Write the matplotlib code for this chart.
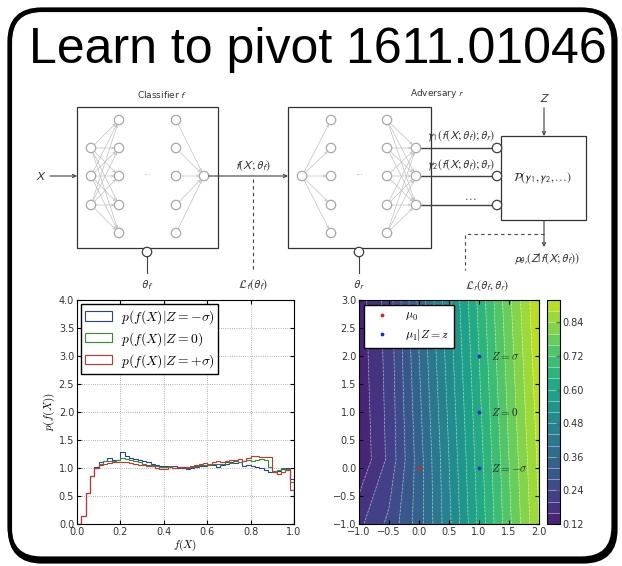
import numpy as np
import matplotlib
matplotlib.use("Agg")
import matplotlib.pyplot as plt
from matplotlib import font_manager
from matplotlib.patches import FancyBboxPatch, Circle, Rectangle

# --- histogram of f(X) for three values of the nuisance Z (50 bins on [0, 1]) ---
hist_edges = np.linspace(0.0, 1.0, 51)
p_minus = [0.00, 0.14, 0.55, 0.85, 1.02, 1.10, 1.12, 1.18, 1.14, 1.15,
           1.28, 1.22, 1.18, 1.16, 1.15, 1.12, 1.10, 1.08, 1.06, 1.03,
           1.04, 1.01, 1.03, 1.00, 1.01, 0.99, 1.00, 1.02, 1.03, 1.04,
           1.05, 1.06, 1.02, 1.05, 1.08, 1.10, 1.09, 1.11, 1.03, 1.06,
           1.04, 1.02, 1.00, 0.97, 0.93, 0.92, 0.95, 0.99, 1.00, 0.80]
p_zero = [0.00, 0.14, 0.55, 0.85, 1.00, 1.08, 1.12, 1.12, 1.13, 1.15,
          1.18, 1.16, 1.14, 1.12, 1.10, 1.08, 1.06, 1.05, 1.03, 1.02,
          1.02, 1.03, 1.00, 1.01, 1.00, 1.00, 1.01, 1.03, 1.05, 1.06,
          1.05, 1.07, 1.08, 1.07, 1.10, 1.09, 1.12, 1.10, 1.13, 1.14,
          1.13, 1.14, 1.16, 1.15, 1.02, 0.95, 0.97, 1.00, 0.98, 0.75]
p_plus = [0.00, 0.14, 0.55, 0.85, 1.00, 1.06, 1.08, 1.09, 1.10, 1.10,
          1.11, 1.10, 1.09, 1.08, 1.06, 1.05, 1.03, 1.04, 1.00, 0.98,
          0.99, 1.01, 1.00, 1.02, 1.00, 1.01, 1.03, 1.05, 1.07, 1.09,
          1.08, 1.10, 1.12, 1.11, 1.13, 1.15, 1.14, 1.16, 1.13, 1.18,
          1.21, 1.22, 1.20, 1.20, 1.19, 0.92, 0.90, 0.93, 0.97, 0.60]
hist_labels = [r"$p(f(X)|Z=-\sigma)$", r"$p(f(X)|Z=0)$", r"$p(f(X)|Z=+\sigma)$"]
hist_colors = ["#2b3fa0", "#2e8f2e", "#d0302c"]

grid_x = [-1.0, -0.5, 0.0, 0.5, 1.0, 1.5, 2.0]
grid_y = [-1.0, 0.15, 3.0]
surface = [[0.19, 0.25, 0.34, 0.47, 0.61, 0.75, 0.88],
           [0.125, 0.21, 0.34, 0.48, 0.62, 0.76, 0.89],
           [0.14, 0.22, 0.37, 0.51, 0.65, 0.79, 0.92]]
levels = np.linspace(0.12, 0.92, 21)
cbar_ticks = [0.12, 0.24, 0.36, 0.48, 0.60, 0.72, 0.84]
mu0 = (0.0, 0.0)
mu1_x = [1.0, 1.0, 1.0]
mu1_y = [2.0, 1.0, 0.0]
mu1_text = [r"$Z=\sigma$", r"$Z=0$", r"$Z=-\sigma$"]

W, H = 622, 566
plt.rcParams.update({
    "mathtext.fontset": "cm",
    "xtick.direction": "in", "ytick.direction": "in",
    "xtick.top": True, "ytick.right": True,
    "xtick.labelsize": 7, "ytick.labelsize": 7,
    "xtick.labelcolor": "#333333", "ytick.labelcolor": "#333333",
    "xtick.major.size": 3, "ytick.major.size": 3,
    "xtick.major.pad": 2, "ytick.major.pad": 2,
    "axes.linewidth": 0.8,
    "legend.fancybox": False, "legend.edgecolor": "black", "legend.framealpha": 1,
})

fig = plt.figure(figsize=(W / 100, H / 100), dpi=100, facecolor="white")

# --- 1) slide background: frame, title, network diagram ---
bg = fig.add_axes([0, 0, 1, 1])
bg.set_xlim(0, W)
bg.set_ylim(H, 0)
bg.axis("off")

# frame with a small drop shadow on the bottom/right
bg.add_patch(FancyBboxPatch((10, 10), 605.5, 551.5, boxstyle="round,pad=0,rounding_size=32",
                            fc="none", ec="black", lw=3))
bg.add_patch(FancyBboxPatch((9.5, 9.5), 604, 549, boxstyle="round,pad=0,rounding_size=32",
                            fc="none", ec="black", lw=3))

names = {f.name for f in font_manager.fontManager.ttflist}
if "Liberation Sans Narrow" in names:
    tfam, tsize = "Liberation Sans Narrow", 43
else:
    tfam, tsize = "Liberation Sans", 36
bg.text(318, 63, "Learn to pivot 1611.01046", ha="center", va="baseline",
        fontsize=tsize, family=tfam)

DARK, NODE, EDGE = "#404040", "#a8a8a8", "#c0c0c0"
R = 4.7


def label(x, y, s, ha="center", z=2, size=8.5):
    bg.text(x, y, s, ha=ha, va="center", fontsize=size, color="#333333",
            math_fontfamily="stixsans", zorder=z)


def arrow(x0, y0, x1, y1, color=DARK, lw=0.8, ms=6):
    bg.annotate("", xy=(x1, y1), xytext=(x0, y0),
                arrowprops=dict(arrowstyle="->", color=color, lw=lw,
                                shrinkA=0, shrinkB=0, mutation_scale=ms))


def node(x, y, ec=NODE, z=3):
    bg.add_patch(Circle((x, y), R, fc="white", ec=ec, lw=0.9, zorder=z))


def link(p, q):
    d = np.subtract(q, p)
    n = d / np.hypot(*d)
    arrow(p[0] + n[0] * R, p[1] + n[1] * R, q[0] - n[0] * R, q[1] - n[1] * R,
          color=EDGE, lw=0.5, ms=4)


rows5 = [120, 148, 176, 205, 233]
rows3 = [148, 176, 205]

# classifier f
bg.add_patch(Rectangle((77, 107), 141, 141, fc="none", ec="#333333", lw=0.9))
label(162, 94, r"Classifier $f$", size=6.5)
for ya in rows3:
    for yb in rows5:
        link((91, ya), (119, yb))
for yc in rows5:
    link((176, yc), (204, 176))
for y in rows3:
    node(91, y)
for y in rows5:
    node(119, y)
    node(176, y)
node(204, 176)
bg.text(147, 176, "···", ha="center", va="center", fontsize=6, color=NODE)
label(41, 176, r"$X$")
arrow(50, 176, 77, 176)
arrow(204 + R, 176, 288, 176)
label(253, 166, r"$f(X;\theta_f)$")
bg.plot([253, 253], [179, 270], color=DARK, lw=0.8, ls=(0, (3, 3)))
label(253, 285, r"$\mathcal{L}_f(\theta_f)$")
node(147, 252, ec=DARK)
bg.plot([147, 147], [252 + R, 273], color=DARK, lw=0.8)
label(147, 285, r"$\theta_f$")

# adversary r
bg.add_patch(Rectangle((288, 107), 143, 141, fc="none", ec="#333333", lw=0.9))
label(437, 94, r"Adversary $r$", size=6.5)
for yb in rows5:
    link((302, 176), (331, yb))
for yc in rows5:
    for yo in rows3:
        link((387, yc), (416, yo))
node(302, 176)
for y in rows5:
    node(331, y)
    node(387, y)
bg.text(359, 176, "···", ha="center", va="center", fontsize=6, color=NODE)
node(359, 252, ec=DARK)
bg.plot([359, 359], [252 + R, 273], color=DARK, lw=0.8)
label(359, 285, r"$\theta_r$")
for y in rows3:
    bg.plot([416 + R, 497 - R], [y, y], color=DARK, lw=1.0)
    node(416, y)
    node(497, y, ec=DARK, z=6)
label(427, 136, r"$\gamma_1(f(X;\theta_f);\theta_r)$", ha="left")
label(427, 165, r"$\gamma_2(f(X;\theta_f);\theta_r)$", ha="left")
label(470, 196, r"$\ldots$")

# posterior box
bg.add_patch(Rectangle((501, 136), 85, 84, fc="white", ec="#333333", lw=0.9, zorder=5))
label(543, 178, r"$\mathcal{P}(\gamma_1,\gamma_2,\ldots)$", z=6)
label(544, 99, r"$Z$")
arrow(544, 108, 544, 136)
arrow(544, 220, 544, 247)
label(547, 259, r"$p_{\theta_r}(Z|f(X;\theta_f))$")
bg.plot([544, 465, 465], [234, 234, 270], color=DARK, lw=0.8, ls=(0, (3, 3)))
label(487, 286, r"$\mathcal{L}_r(\theta_f,\theta_r)$")

# --- 2) histogram panel ---
ax1 = fig.add_axes([77 / W, (H - 524) / H, 217 / W, 224 / H])
for vals, col, lab in zip([p_minus, p_zero, p_plus], hist_colors, hist_labels):
    ax1.hist(hist_edges[:-1], bins=hist_edges, weights=vals, histtype="step",
             color=col, lw=0.8, label=lab)
ax1.set_xlim(0, 1)
ax1.set_ylim(0, 4)
ax1.set_xticks(np.arange(0, 1.01, 0.2))
ax1.set_yticks(np.arange(0, 4.01, 0.5))
ax1.grid(True, ls=":", color="#999999", lw=0.6)
ax1.set_xlabel(r"$f(X)$", fontsize=8, labelpad=1)
ax1.set_ylabel(r"$p(f(X))$", fontsize=8, labelpad=1)
ax1.legend(loc="upper left", fontsize=9.8, borderaxespad=0.3, handlelength=2.0,
           labelspacing=0.3, borderpad=0.3, handletextpad=0.6)

# --- 3) contour panel + colorbar ---
ax2 = fig.add_axes([359 / W, (H - 524) / H, 180 / W, 224 / H])
gx, gy = np.meshgrid(grid_x, grid_y)
cs = ax2.contourf(gx, gy, surface, levels=levels, cmap="viridis", vmin=0.04, vmax=1.0)
cl = ax2.contour(gx, gy, surface, levels=levels, colors="white", linewidths=0.5,
                 linestyles="dashed", alpha=0.6)
ax2.plot([mu0[0]], [mu0[1]], ".", color="#d62728", ms=3.5, label=r"$\mu_0$")
ax2.plot(mu1_x, mu1_y, ".", color="#1c2fc0", ms=3.5, ls="none", label=r"$\mu_1|Z=z$")
for x, y, t in zip(mu1_x, mu1_y, mu1_text):
    ax2.text(x + 0.2, y, t, va="center", fontsize=8, color="#222222")
ax2.set_xlim(-1, 2)
ax2.set_ylim(-1, 3)
ax2.set_xticks(np.arange(-1, 2.01, 0.5))
ax2.set_yticks(np.arange(-1, 3.01, 0.5))
ax2.legend(loc="upper left", fontsize=8.5, numpoints=1, borderaxespad=0.4,
           handlelength=2.3, labelspacing=0.3, borderpad=0.4)

cax = fig.add_axes([547 / W, (H - 524) / H, 13 / W, 224 / H])
cb = fig.colorbar(cs, cax=cax, ticks=cbar_ticks)
cb.add_lines(cl)
cb.outline.set_linewidth(0.8)
cax.tick_params(direction="in", length=3, labelsize=7)

fig.savefig("out.png", dpi=100, facecolor="white")
